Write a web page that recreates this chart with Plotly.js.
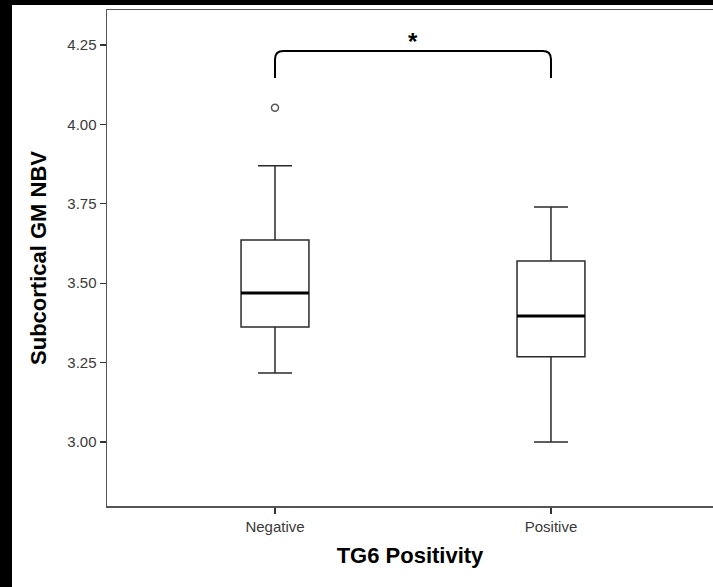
<!DOCTYPE html>
<html>
<head>
<meta charset="utf-8">
<script src="https://cdn.plot.ly/plotly-3.0.1.min.js"></script>
<style>
  html, body { margin: 0; padding: 0; background: #000; overflow: hidden; width: 713px; height: 587px; }
  #chart { position: absolute; left: 12px; top: 5px; width: 701px; height: 582px; background: #fff; }
</style>
</head>
<body>
<div id="chart"></div>
<script>
// ---- data ----
const categories = ["Negative", "Positive"];
const lowerWhisker = [3.217, 3.000];
const q1 = [3.362, 3.268];
const median = [3.469, 3.397];
const q3 = [3.636, 3.570];
const upperWhisker = [3.870, 3.740];
const outlierGroup = ["Negative"];
const outlierValues = [4.052];
const significanceLabel = "*";
const xTitle = "TG6 Positivity";
const yTitle = "Subcortical GM NBV";

const idx = categories.map((c, i) => i);
const boxWidth = 0.246;

const traces = [];
traces.push({
  type: "box",
  x: idx,
  q1: q1,
  median: median,
  q3: q3,
  lowerfence: lowerWhisker,
  upperfence: upperWhisker,
  width: boxWidth,
  whiskerwidth: 0.5,
  fillcolor: "#ffffff",
  line: { color: "#2a2a2a", width: 1.5 },
  boxpoints: false,
  hoverinfo: "skip",
  showlegend: false
});
// thicker median lines
idx.forEach((i) => {
  traces.push({
    type: "scatter",
    mode: "lines",
    x: [i - boxWidth / 2, i + boxWidth / 2],
    y: [median[i], median[i]],
    line: { color: "#000000", width: 3 },
    hoverinfo: "skip",
    showlegend: false
  });
});
// outliers
traces.push({
  type: "scatter",
  mode: "markers",
  x: outlierGroup.map(g => categories.indexOf(g)),
  y: outlierValues,
  marker: { symbol: "circle-open", size: 7, color: "#555", line: { width: 1.5, color: "#555" } },
  hoverinfo: "skip",
  showlegend: false
});

// significance bracket between the two groups
const yLow = 4.146, yTop = 4.231, r = 0.026, rx = 0.03;
const a = idx[0], b = idx[1];
const bracketPath =
  `M ${a},${yLow} L ${a},${yTop - r} Q ${a},${yTop} ${a + rx},${yTop} ` +
  `L ${b - rx},${yTop} Q ${b},${yTop} ${b},${yTop - r} L ${b},${yLow}`;

const layout = {
  width: 701,
  height: 582,
  margin: { l: 95, r: 0, t: 5, b: 81 },
  paper_bgcolor: "#ffffff",
  plot_bgcolor: "#ffffff",
  font: { family: "Liberation Sans, Arial, sans-serif", color: "#333" },
  xaxis: {
    range: [-0.6087, 1.587],
    tickvals: idx,
    ticktext: categories,
    showgrid: false,
    zeroline: false,
    showline: true,
    mirror: true,
    linecolor: "#555",
    linewidth: 1.5,
    ticks: "outside",
    ticklen: 6,
    tickcolor: "#333",
    tickwidth: 1.2,
    tickfont: { size: 15, color: "#3a3a3a" },
    title: { text: xTitle, font: { size: 22, color: "#000", weight: "bold" }, standoff: 14 }
  },
  yaxis: {
    range: [2.7985, 4.36],
    tick0: 3,
    dtick: 0.25,
    tickformat: ".2f",
    showgrid: false,
    zeroline: false,
    showline: true,
    linecolor: "#555",
    linewidth: 1.5,
    ticks: "outside",
    ticklen: 6,
    tickcolor: "#333",
    tickwidth: 1.2,
    tickfont: { size: 15, color: "#3a3a3a" },
    title: { text: yTitle, font: { size: 22, color: "#000", weight: "bold" }, standoff: 14 }
  },
  shapes: [{
    type: "path",
    xref: "x", yref: "y",
    path: bracketPath,
    line: { color: "#000", width: 2 }
  }],
  annotations: [{
    x: (a + b) / 2,
    y: 4.262,
    xref: "x", yref: "y",
    text: "<b>" + significanceLabel + "</b>",
    showarrow: false,
    font: { size: 24, color: "#000" },
    yanchor: "middle"
  }],
  showlegend: false
};

Plotly.newPlot("chart", traces, layout, { staticPlot: true, displayModeBar: false });
</script>
</body>
</html>
